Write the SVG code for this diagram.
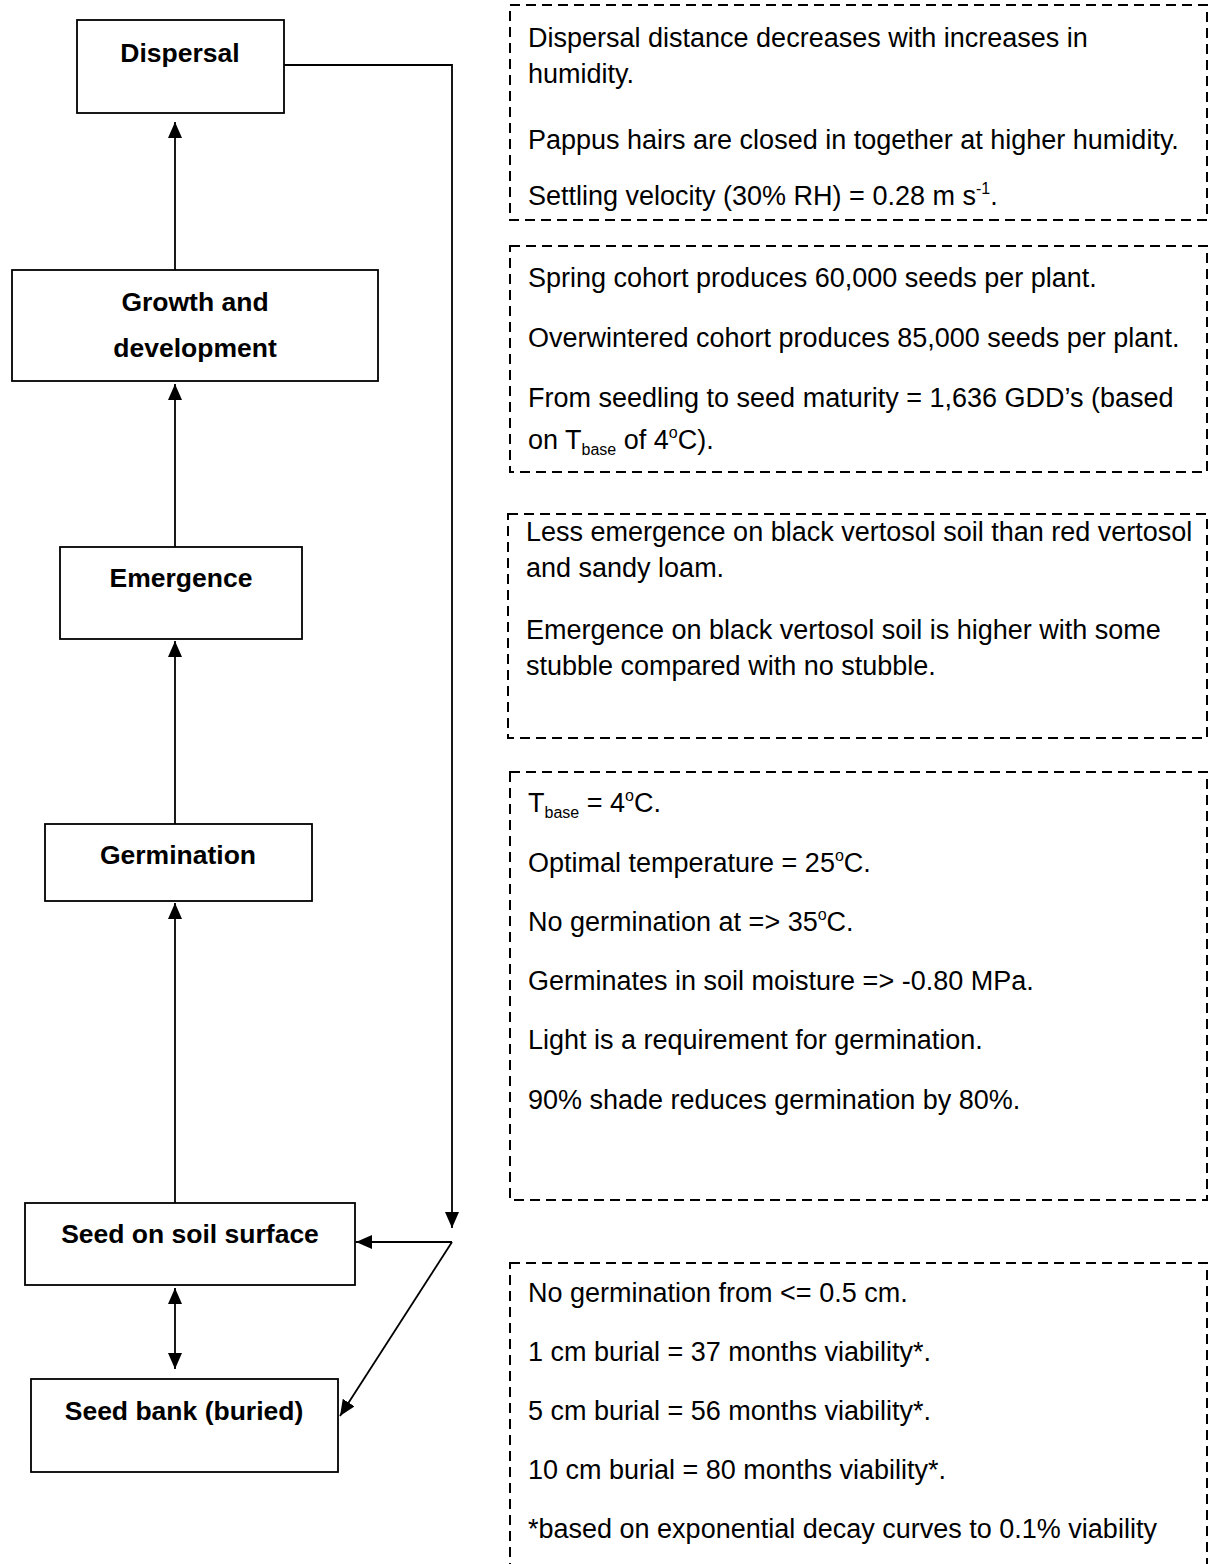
<svg xmlns="http://www.w3.org/2000/svg" width="1212" height="1564" viewBox="0 0 1212 1564">
<style>
.node{fill:#fff;stroke:#000;stroke-width:1.8}
.lbl{font-family:"Liberation Sans",Arial,sans-serif;font-weight:bold;font-size:26.5px;fill:#000;text-anchor:middle}
.note{fill:none;stroke:#000;stroke-width:2;stroke-dasharray:10 6}
.t{font-family:"Liberation Sans",Arial,sans-serif;font-size:27px;fill:#000}
.c{fill:none;stroke:#000;stroke-width:1.8}
.sm{font-size:16px}
</style>
<defs>
<marker id="ah" viewBox="0 0 16 14" refX="16" refY="7" markerWidth="16" markerHeight="14" markerUnits="userSpaceOnUse" orient="auto-start-reverse">
<path d="M0,0 L16,7 L0,14 Z" fill="#000"/>
</marker>
</defs>
<rect width="1212" height="1564" fill="#fff"/>

<g id="connectors">
<line class="c" x1="175" y1="270" x2="175" y2="122" marker-end="url(#ah)"/>
<line class="c" x1="175" y1="547" x2="175" y2="384" marker-end="url(#ah)"/>
<line class="c" x1="175" y1="824" x2="175" y2="641" marker-end="url(#ah)"/>
<line class="c" x1="175" y1="1203" x2="175" y2="903" marker-end="url(#ah)"/>
<line class="c" x1="175" y1="1288" x2="175" y2="1369" marker-start="url(#ah)" marker-end="url(#ah)"/>
<polyline class="c" points="284,65 452,65 452,1228" marker-end="url(#ah)"/>
<line class="c" x1="452" y1="1242" x2="356" y2="1242" marker-end="url(#ah)"/>
<line class="c" x1="452" y1="1242" x2="340" y2="1416" marker-end="url(#ah)"/>
</g>

<g id="dispersal">
<rect class="node" x="77" y="20" width="207" height="93"/>
<text class="lbl" x="180" y="62">Dispersal</text>
</g>
<g id="growth">
<rect class="node" x="12" y="270" width="366" height="111"/>
<text class="lbl" x="195" y="311">Growth and</text>
<text class="lbl" x="195" y="357">development</text>
</g>
<g id="emergence">
<rect class="node" x="60" y="547" width="242" height="92"/>
<text class="lbl" x="181" y="587">Emergence</text>
</g>
<g id="germination">
<rect class="node" x="45" y="824" width="267" height="77"/>
<text class="lbl" x="178" y="864">Germination</text>
</g>
<g id="seed-surface">
<rect class="node" x="25" y="1203" width="330" height="82"/>
<text class="lbl" x="190" y="1243">Seed on soil surface</text>
</g>
<g id="seed-bank">
<rect class="node" x="31" y="1379" width="307" height="93"/>
<text class="lbl" x="184" y="1420">Seed bank (buried)</text>
</g>

<g id="note-dispersal">
<rect class="note" x="510" y="5" width="697" height="215"/>
<text class="t" x="528" y="47">Dispersal distance decreases with increases in</text>
<text class="t" x="528" y="83">humidity.</text>
<text class="t" x="528" y="149">Pappus hairs are closed in together at higher humidity.</text>
<text class="t" x="528" y="205">Settling velocity (30% RH) = 0.28 m s<tspan class="sm" dy="-11">-1</tspan><tspan dy="11">.</tspan></text>
</g>
<g id="note-growth">
<rect class="note" x="510" y="246" width="697" height="226"/>
<text class="t" x="528" y="287">Spring cohort produces 60,000 seeds per plant.</text>
<text class="t" x="528" y="347">Overwintered cohort produces 85,000 seeds per plant.</text>
<text class="t" x="528" y="407">From seedling to seed maturity = 1,636 GDD’s (based</text>
<text class="t" x="528" y="449">on T<tspan class="sm" dy="6">base</tspan><tspan dy="-6"> of 4</tspan><tspan class="sm" dy="-11">o</tspan><tspan dy="11">C).</tspan></text>
</g>
<g id="note-emergence">
<rect class="note" x="508" y="514" width="699" height="224"/>
<text class="t" x="526" y="541">Less emergence on black vertosol soil than red vertosol</text>
<text class="t" x="526" y="577">and sandy loam.</text>
<text class="t" x="526" y="639">Emergence on black vertosol soil is higher with some</text>
<text class="t" x="526" y="675">stubble compared with no stubble.</text>
</g>
<g id="note-germination">
<rect class="note" x="510" y="772" width="697" height="428"/>
<text class="t" x="528" y="812">T<tspan class="sm" dy="6">base</tspan><tspan dy="-6"> = 4</tspan><tspan class="sm" dy="-11">o</tspan><tspan dy="11">C.</tspan></text>
<text class="t" x="528" y="872">Optimal temperature = 25<tspan class="sm" dy="-11">o</tspan><tspan dy="11">C.</tspan></text>
<text class="t" x="528" y="931">No germination at =&gt; 35<tspan class="sm" dy="-11">o</tspan><tspan dy="11">C.</tspan></text>
<text class="t" x="528" y="990">Germinates in soil moisture =&gt; -0.80 MPa.</text>
<text class="t" x="528" y="1049">Light is a requirement for germination.</text>
<text class="t" x="528" y="1109">90% shade reduces germination by 80%.</text>
</g>
<g id="note-seedbank">
<rect class="note" x="510" y="1263" width="697" height="330"/>
<text class="t" x="528" y="1302">No germination from &lt;= 0.5 cm.</text>
<text class="t" x="528" y="1361">1 cm burial = 37 months viability*.</text>
<text class="t" x="528" y="1420">5 cm burial = 56 months viability*.</text>
<text class="t" x="528" y="1479">10 cm burial = 80 months viability*.</text>
<text class="t" x="528" y="1538">*based on exponential decay curves to 0.1% viability</text>
</g>
</svg>
